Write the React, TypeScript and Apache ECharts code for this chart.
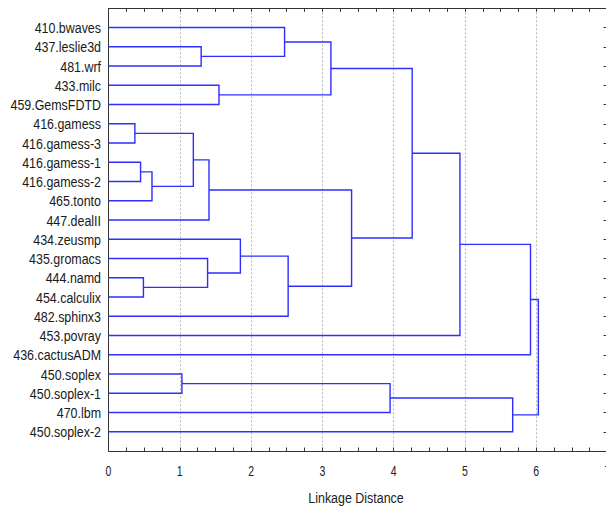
import React, { useEffect, useRef } from "react";
import * as echarts from "echarts";

const leaves: string[] = [
  "410.bwaves", "437.leslie3d", "481.wrf", "433.milc", "459.GemsFDTD",
  "416.gamess", "416.gamess-3", "416.gamess-1", "416.gamess-2", "465.tonto",
  "447.dealII", "434.zeusmp", "435.gromacs", "444.namd", "454.calculix",
  "482.sphinx3", "453.povray", "436.cactusADM", "450.soplex", "450.soplex-1",
  "470.lbm", "450.soplex-2",
];

// merges: [childA, childB, linkage distance]; ids >= leaves.length refer to earlier merges
const mergeA: number[] = [1, 0, 3, 23, 5, 7, 27, 26, 29, 13, 12, 11, 33, 30, 25, 36, 37, 18, 39, 40, 38];
const mergeB: number[] = [2, 22, 4, 24, 6, 8, 9, 28, 10, 14, 31, 32, 15, 34, 35, 16, 17, 19, 20, 21, 41];
const mergeH: number[] = [1.30, 2.47, 1.55, 3.12, 0.37, 0.45, 0.61, 1.19, 1.41, 0.49, 1.39, 1.85, 2.52, 3.41, 4.26, 4.93, 5.92, 1.03, 3.95, 5.67, 6.03];

const xTicks: number[] = [0, 1, 2, 3, 4, 5, 6, 7];
const xTitle = "Linkage Distance";

const FONT = "'Liberation Sans', Arial, sans-serif";

export default function App() {
  const ref = useRef<HTMLDivElement>(null);
  useEffect(() => {
    if (!ref.current) return;
    const chart = echarts.init(ref.current, undefined, { renderer: "svg" });
    const n = leaves.length;
    const nodeX: number[] = [];
    const nodeY: number[] = [];
    for (let i = 0; i < n; i++) { nodeX.push(0); nodeY.push(i); }
    const links: number[][] = [];
    for (let k = 0; k < mergeA.length; k++) {
      const a = mergeA[k], b = mergeB[k], h = mergeH[k];
      links.push([nodeX[a], nodeY[a], nodeX[b], nodeY[b], h]);
      nodeX.push(h);
      nodeY.push((nodeY[a] + nodeY[b]) / 2);
    }
    const leafIdx = leaves.map((_, i) => i);
    const lineColor = "#2e2eff";
    const axisColor = "#333";
    const gridLeft = 108.5, gridTop = 8.3, gridW = 499, gridH = 442.7;
    chart.setOption({
      animation: false,
      backgroundColor: "#ffffff",
      grid: { left: gridLeft, top: gridTop, width: gridW, height: gridH, containLabel: false, outerBoundsMode: "none" },
      xAxis: [
        {
          type: "value", position: "bottom", min: 0, max: 7, interval: 1,
          axisLine: { show: true, onZero: false, lineStyle: { color: axisColor, width: 1 } },
          axisTick: { show: true, inside: true, length: 3.5, lineStyle: { color: axisColor } },
          minorTick: { show: true, splitNumber: 4, length: 3.5, lineStyle: { color: axisColor } },
          axisLabel: { show: false },
          splitLine: { show: true, lineStyle: { color: "#b8b8b8", type: [2, 2], width: 1 } },
        },
        {
          type: "value", position: "top", min: 0, max: 7, interval: 1,
          axisLine: { show: true, onZero: false, lineStyle: { color: axisColor, width: 1 } },
          axisTick: { show: true, inside: true, length: 3.5, lineStyle: { color: axisColor } },
          minorTick: { show: true, splitNumber: 4, length: 3.5, lineStyle: { color: axisColor } },
          axisLabel: { show: false },
          splitLine: { show: false },
        },
      ],
      yAxis: [
        {
          type: "value", position: "left", min: -1, max: 22, inverse: true,
          axisLine: { show: true, onZero: false, lineStyle: { color: axisColor, width: 1 } },
          axisTick: { show: false },
          axisLabel: { show: false },
          splitLine: { show: false },
        },
        {
          type: "value", position: "right", min: -1, max: 22, inverse: true,
          axisLine: { show: true, onZero: false, lineStyle: { color: axisColor, width: 1 } },
          axisTick: { show: true, inside: true, length: 4, customValues: leafIdx, lineStyle: { color: axisColor } },
          axisLabel: { show: false },
          splitLine: { show: false },
        },
      ],
      graphic: [
        {
          type: "text",
          x: gridLeft + gridW / 2 - 2,
          y: 498,
          scaleX: 0.83,
          style: {
            text: xTitle, fontFamily: FONT, fontSize: 15, fill: "#222",
            align: "center", verticalAlign: "middle",
          },
        },
      ],
      series: [
        {
          type: "custom",
          xAxisIndex: 0,
          yAxisIndex: 0,
          clip: false,
          data: links,
          encode: { x: [0, 2, 4], y: [1, 3] },
          renderItem: (params: any, api: any) => {
            const xa = api.value(0), ya = api.value(1), xb = api.value(2), yb = api.value(3), h = api.value(4);
            const p1 = api.coord([xa, ya]);
            const p2 = api.coord([h, ya]);
            const p3 = api.coord([h, yb]);
            const p4 = api.coord([xb, yb]);
            return {
              type: "polyline",
              shape: { points: [p1, p2, p3, p4] },
              style: { stroke: lineColor, lineWidth: 1.4, fill: "none" },
            };
          },
        },
        {
          type: "custom",
          name: "leafLabels",
          xAxisIndex: 0,
          yAxisIndex: 0,
          clip: false,
          data: leafIdx.map((i) => [0, i]),
          renderItem: (params: any, api: any) => {
            const p = api.coord([api.value(0), api.value(1)]);
            return {
              type: "text",
              x: p[0] - 7.5,
              y: p[1] + 0.8,
              scaleX: 0.83,
              style: {
                text: leaves[params.dataIndex], fontFamily: FONT, fontSize: 15, fill: "#1a1a1a",
                align: "right", verticalAlign: "middle",
              },
            };
          },
        },
        {
          type: "custom",
          name: "tickLabels",
          xAxisIndex: 0,
          yAxisIndex: 0,
          clip: false,
          data: xTicks.map((v) => [v, 22]),
          renderItem: (params: any, api: any) => {
            const p = api.coord([api.value(0), api.value(1)]);
            return {
              type: "text",
              x: p[0],
              y: p[1] + 19.5,
              scaleX: 0.7,
              style: {
                text: String(xTicks[params.dataIndex]), fontFamily: FONT, fontSize: 15, fill: "#222",
                align: "center", verticalAlign: "middle",
              },
            };
          },
        },
      ],
    });
    return () => chart.dispose();
  }, []);
  return <div ref={ref} style={{ position: "fixed", left: 0, top: 0, width: 606, height: 508 }} />;
}
